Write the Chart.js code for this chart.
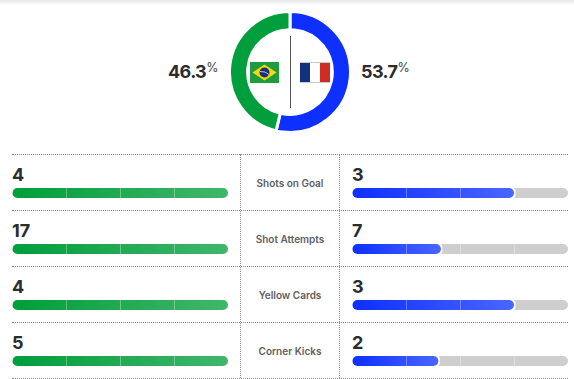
<!DOCTYPE html>
<html>
<head>
<meta charset="utf-8">
<script src="https://cdn.jsdelivr.net/npm/chart.js@4"></script>
<style>
  html,body{margin:0;padding:0;background:#fff;}
  body{width:574px;height:379px;position:relative;overflow:hidden;font-family:Inter,sans-serif;color:#2b2c2d;}
  .abs{position:absolute;}
  #shadow{left:0;top:0;width:574px;height:5px;background:linear-gradient(#e6e6e6,#fff);}
  .pct{top:59px;font-size:18px;font-weight:700;line-height:26px;letter-spacing:-0.6px;white-space:nowrap;}
  .pct sup{font-size:12.5px;font-weight:400;line-height:0;vertical-align:6px;color:#444;}
  #divider{left:290px;top:36px;width:1px;height:72px;background:#555;}
  .hline{left:12px;width:556px;border-top:1px dotted #888;height:0;}
  .vline{top:154px;height:224px;border-left:1px dotted #888;width:0;}
  .num{font-size:18px;font-weight:700;line-height:20px;}
  .cat{left:241px;width:98px;text-align:center;font-size:10px;font-weight:600;color:#5f6060;line-height:14px;}
  canvas{position:absolute;}
</style>
</head>
<body>
<div class="abs" id="shadow"></div>
<div class="abs pct" id="pctLeft" style="left:168px"></div>
<div class="abs pct" id="pctRight" style="left:361px"></div>
<canvas id="possession" width="124" height="124" style="left:228px;top:10px"></canvas>
<div class="abs" id="divider"></div>
<svg class="abs" style="left:250px;top:62px" width="29" height="21" viewBox="0 0 29 21">
  <rect width="29" height="21" fill="#1f9c3c"/>
  <polygon points="14.5,2.5 26.5,10.5 14.5,18.5 2.5,10.5" fill="#f4d90f"/>
  <circle cx="14.5" cy="10.5" r="5" fill="#1c2f78"/>
  <path d="M10 9.5 Q15 9 19 12.5" stroke="#dfe6d8" stroke-width="0.8" fill="none"/>
</svg>
<svg class="abs" style="left:300px;top:62px" width="30" height="21" viewBox="0 0 30 21">
  <rect width="30" height="21" fill="#c8cacb"/>
  <rect y="1" width="10" height="19" fill="#12317e"/>
  <rect x="10" y="1" width="10" height="19" fill="#fff"/>
  <rect x="20" y="1" width="10" height="19" fill="#cf2c25"/>
</svg>
<div class="abs vline" style="left:240px"></div>
<div class="abs vline" style="left:339px"></div>
<div id="rows"></div>

<script>
const teams = ['Brazil', 'France'];
const possession = [46.3, 53.7];
const categories = ['Shots on Goal', 'Shot Attempts', 'Yellow Cards', 'Corner Kicks'];
const brazilValues = [4, 17, 4, 5];
const franceValues = [3, 7, 3, 2];

const rowTops = [154, 210, 266, 322];
const rowsEl = document.getElementById('rows');

document.getElementById('pctLeft').innerHTML = possession[0] + '<sup>%</sup>';
document.getElementById('pctRight').innerHTML = possession[1] + '<sup>%</sup>';

new Chart(document.getElementById('possession'), {
  type: 'doughnut',
  data: {
    labels: [teams[1], teams[0]],
    datasets: [{
      data: [possession[1], possession[0]],
      backgroundColor: ['#0d2fff', '#009e3d'],
      borderColor: '#fff',
      borderWidth: 3
    }]
  },
  options: {
    responsive: false,
    animation: false,
    cutout: '70%',
    plugins: { legend: { display: false }, tooltip: { enabled: false } }
  }
});

function addEl(cls, css, text){
  const el = document.createElement('div');
  el.className = 'abs ' + cls;
  el.style.cssText = css;
  el.textContent = text;
  rowsEl.appendChild(el);
}

function barChart(left, top, value, max, from, to){
  const c = document.createElement('canvas');
  c.width = 216; c.height = 10;
  c.style.left = left + 'px';
  c.style.top = top + 'px';
  rowsEl.appendChild(c);
  new Chart(c, {
    type: 'bar',
    data: {
      labels: [''],
      datasets: [{
        data: [value],
        backgroundColor: ctx => {
          const area = ctx.chart.chartArea;
          if(!area) return from;
          const end = area.left + area.width * value / max;
          const g = ctx.chart.ctx.createLinearGradient(area.left, 0, end, 0);
          g.addColorStop(0, from);
          g.addColorStop(1, to);
          return g;
        },
        borderWidth: 0,
        borderSkipped: false,
        borderRadius: 5,
        inflateAmount: 0
      }, {
        // white halo round the end of the fill
        data: [value],
        backgroundColor: '#fff',
        borderWidth: 0,
        borderSkipped: false,
        borderRadius: 5,
        inflateAmount: 1.5
      }, {
        data: [max],
        backgroundColor: '#cdcecd',
        borderWidth: 0,
        borderRadius: 5,
        borderSkipped: false,
        inflateAmount: 0
      }]
    },
    options: {
      indexAxis: 'y',
      responsive: false,
      animation: false,
      barPercentage: 1,
      categoryPercentage: 1,
      grouped: false,
      layout: { padding: 0 },
      scales: {
        x: {
          min: 0, max: max,
          border: { display: false },
          grid: {
            z: 1,
            drawTicks: false,
            color: ctx => (ctx.tick && ctx.tick.value > 0 && ctx.tick.value < max) ? 'rgba(255,255,255,0.33)' : 'rgba(0,0,0,0)'
          },
          ticks: { display: false, stepSize: max / 4, autoSkip: false }
        },
        y: { display: false }
      },
      plugins: { legend: { display: false }, tooltip: { enabled: false } }
    }
  });
}

categories.forEach((cat, i) => {
  const top = rowTops[i];
  const max = Math.max(brazilValues[i], franceValues[i]);
  addEl('hline', 'top:' + top + 'px', '');
  addEl('num', 'left:12px;top:' + (top + 11) + 'px', brazilValues[i]);
  addEl('num', 'left:352px;top:' + (top + 11) + 'px', franceValues[i]);
  addEl('cat', 'top:' + (top + 22) + 'px', cat);
  barChart(12, top + 34, brazilValues[i], max, '#009e3a', '#41b66c');
  barChart(352, top + 34, franceValues[i], max, '#0d2fff', '#4a66ff');
});
addEl('hline', 'top:378px', '');
</script>
</body>
</html>
